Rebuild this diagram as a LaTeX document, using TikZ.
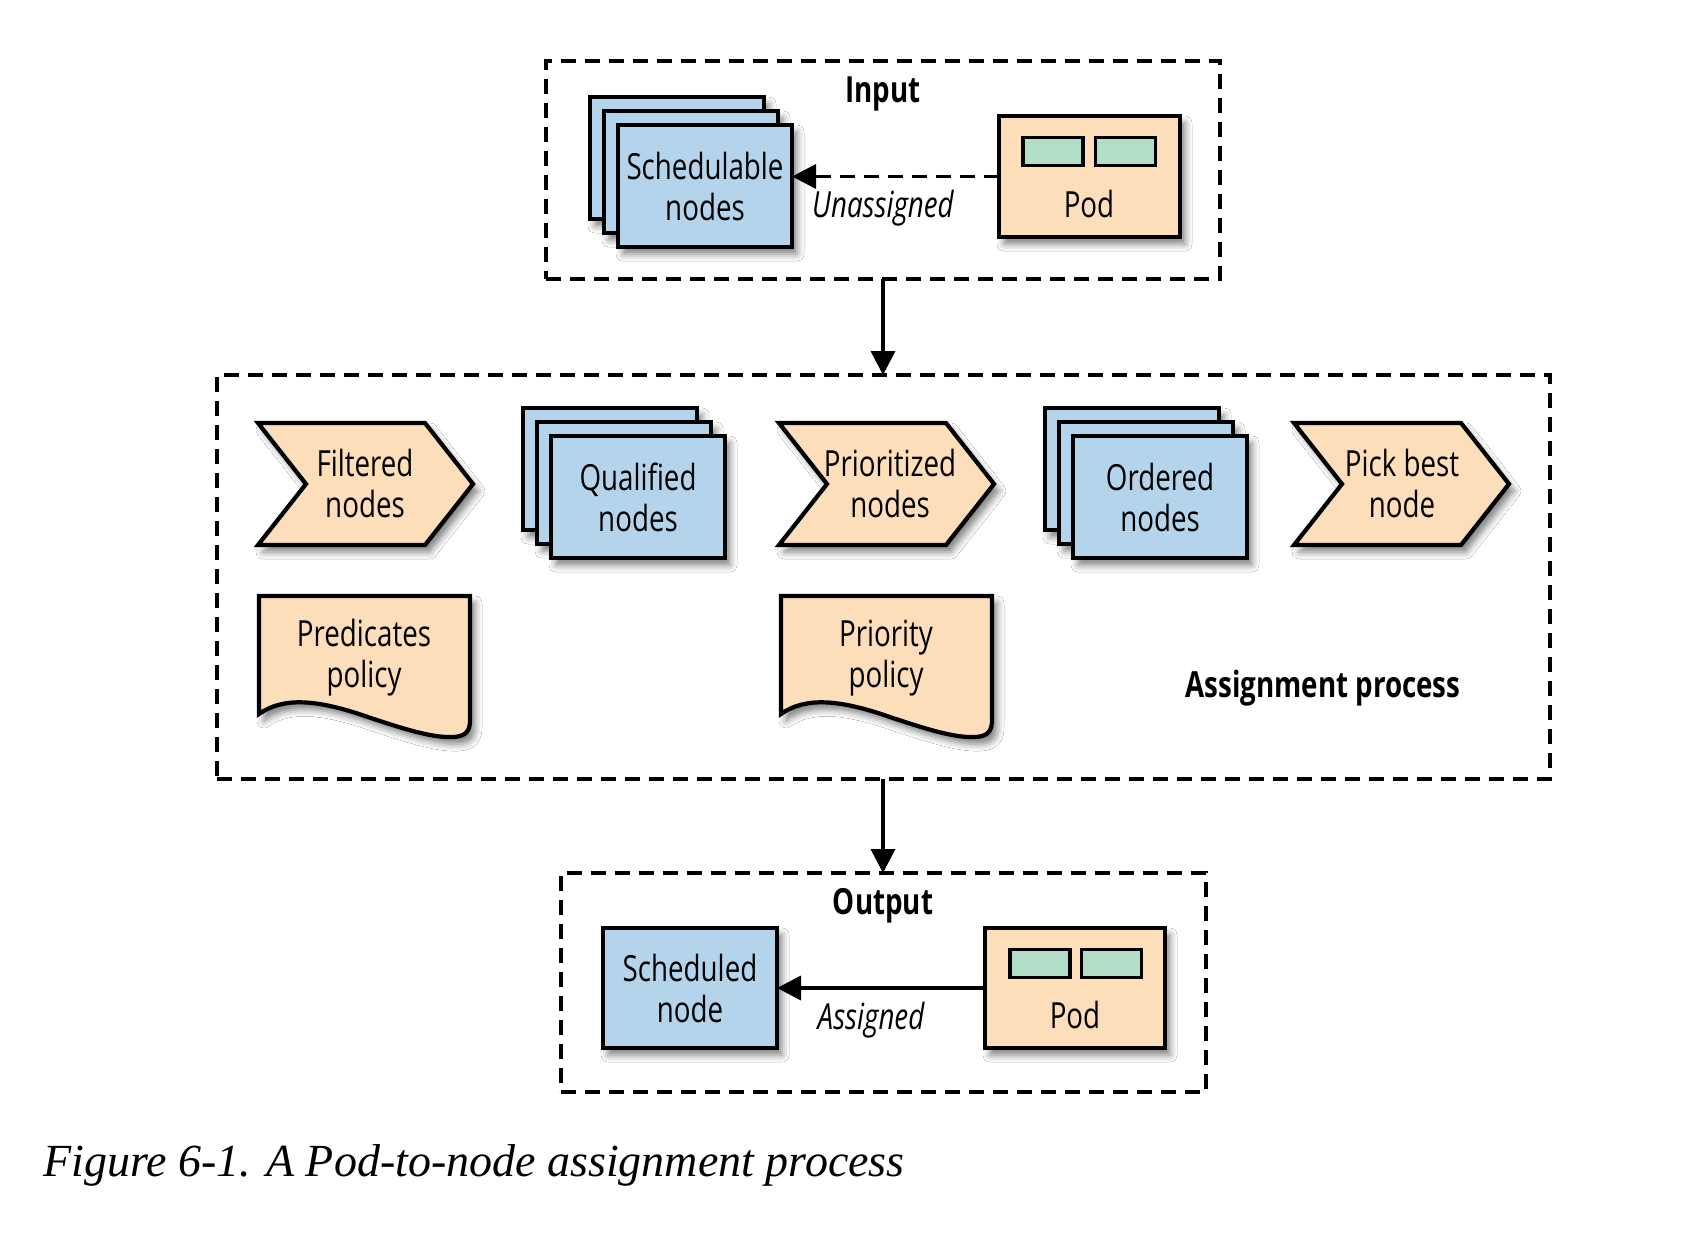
\documentclass[tikz,border=0pt]{standalone}
\usepackage{fontspec}
\newfontfamily\cond[FakeStretch=0.77]{Open Sans}
\newfontfamily\capfont{Liberation Serif}
\usetikzlibrary{arrows.meta,shadows.blur}
\definecolor{nodeblue}{RGB}{180,212,235}
\definecolor{podpeach}{RGB}{253,222,187}
\definecolor{cgreen}{RGB}{178,221,198}
\begin{document}
\begin{tikzpicture}[x=1pt,y=-1pt,
  shad/.style={blur shadow={shadow xshift=5pt,shadow yshift=-7pt,shadow blur radius=7pt,shadow opacity=50}},
  frame/.style={draw,line width=4pt,dash pattern=on 15pt off 9pt,rectangle,inner sep=0pt,outer sep=0pt},
  card/.style={rectangle,draw,line width=4.2pt,fill=nodeblue,inner sep=0pt,outer sep=0pt,minimum width=174pt,minimum height=122pt,shad},
  podbox/.style={rectangle,draw,line width=4.2pt,fill=podpeach,inner sep=0pt,outer sep=0pt,minimum width=181pt,minimum height=121pt,shad},
  ctr/.style={rectangle,draw,line width=3.6pt,fill=cgreen,inner sep=0pt,minimum width=60pt,minimum height=28pt},
  shapeline/.style={draw,line width=4.2pt,fill=podpeach,line join=miter,shad},
  txt/.style={font=\cond\fontsize{36}{41}\selectfont,align=center,inner sep=0pt},
  lbl/.style={font=\cond\bfseries\fontsize{36}{41}\selectfont,inner sep=0pt},
  itl/.style={font=\cond\itshape\fontsize{36}{41}\selectfont,inner sep=0pt},
  tip/.style={-{Triangle[length=24pt,width=24pt]}},
  arr/.style={line width=3.6pt,tip},
  chev/.pic={\filldraw[shapeline] (0,0) -- (167,0) -- (215,61) -- (167,122) -- (0,122) -- (48,61) -- cycle;},
  docu/.pic={\filldraw[shapeline] (0,118) .. controls (25,100) and (60,105) .. (100,118) .. controls (150,135) and (175,142) .. (195,141) .. controls (207,140) and (211,135) .. (211,124) -- (211,0) -- (0,0) -- cycle;},
]
\fill[white] (0,0) rectangle (1684,1242);
\useasboundingbox (0,0) rectangle (1684,1242);

% ---------- Input ----------
\node[frame,minimum width=674pt,minimum height=218pt] (inbox) at (883,170) {};
\node[lbl] (inlbl) at (883,94) {Input};
\node[card] (sch3) at (677,158) {};
\node[card] (sch2) at (691,172) {};
\node[card,txt] (sch1) at (705,186) {Schedulable\\nodes};
\node[podbox] (podA) at (1089.5,176.5) {};
\node[ctr] (ga1) at (1053,151.5) {};
\node[ctr] (ga2) at (1125.5,151.5) {};
\node[txt] (podAt) at (1089,204) {Pod};
\draw[line width=3.6pt,dash pattern=on 15pt off 9pt,tip] (podA.west) -- (podA.west -| sch1.east);
\node[itl] (unas) at (883,208) {Unassigned};

% ---------- Assignment ----------
\node[frame,minimum width=1333pt,minimum height=404pt] (asgbox) at (883,577) {};
\draw[arr] (inbox.south) -- (asgbox.north);

\pic at (258,423) {chev};
\node[txt] (filt) at (365,483) {Filtered\\nodes};
\pic at (779,423) {chev};
\node[txt] (prio) at (890,483) {Prioritized\\nodes};
\pic at (1294,423) {chev};
\node[txt] (pick) at (1402,483) {Pick best\\node};

\node[card] (q3) at (610,469) {};
\node[card] (q2) at (624,483) {};
\node[card,txt] (q1) at (638,497) {Qualified\\nodes};
\node[card] (o3) at (1132,469) {};
\node[card] (o2) at (1146,483) {};
\node[card,txt] (o1) at (1160,497) {Ordered\\nodes};

\pic at (259,596) {docu};
\node[txt] (pred) at (364,658) {Predicates\\policy};
\pic at (781,596) {docu};
\node[txt] (ppol) at (886,658) {Priority\\policy};

\node[lbl] (asglbl) at (1323,688) {Assignment process};

% ---------- Output ----------
\node[frame,minimum width=645pt,minimum height=219pt] (outbox) at (883,982.5) {};
\draw[arr] (asgbox.south) -- (outbox.north);
\node[lbl] (outlbl) at (883,906) {Output};
\node[card,txt,minimum height=120pt] (sched) at (690,988) {Scheduled\\node};
\node[podbox,minimum width=180pt,minimum height=120pt] (podB) at (1075,988) {};
\node[ctr] (gb1) at (1040,963.5) {};
\node[ctr] (gb2) at (1111.5,963.5) {};
\node[txt] (podBt) at (1075,1015) {Pod};
\draw[arr] (podB.west) -- (sched.east);
\node[itl] (asgd) at (871,1020) {Assigned};

% ---------- Caption ----------
\node[anchor=base west,inner sep=0pt,font=\capfont\itshape\fontsize{46}{50}\selectfont] (cap) at (43,1176) {Figure 6-1. A Pod-to-node assignment process};
\end{tikzpicture}
\end{document}
